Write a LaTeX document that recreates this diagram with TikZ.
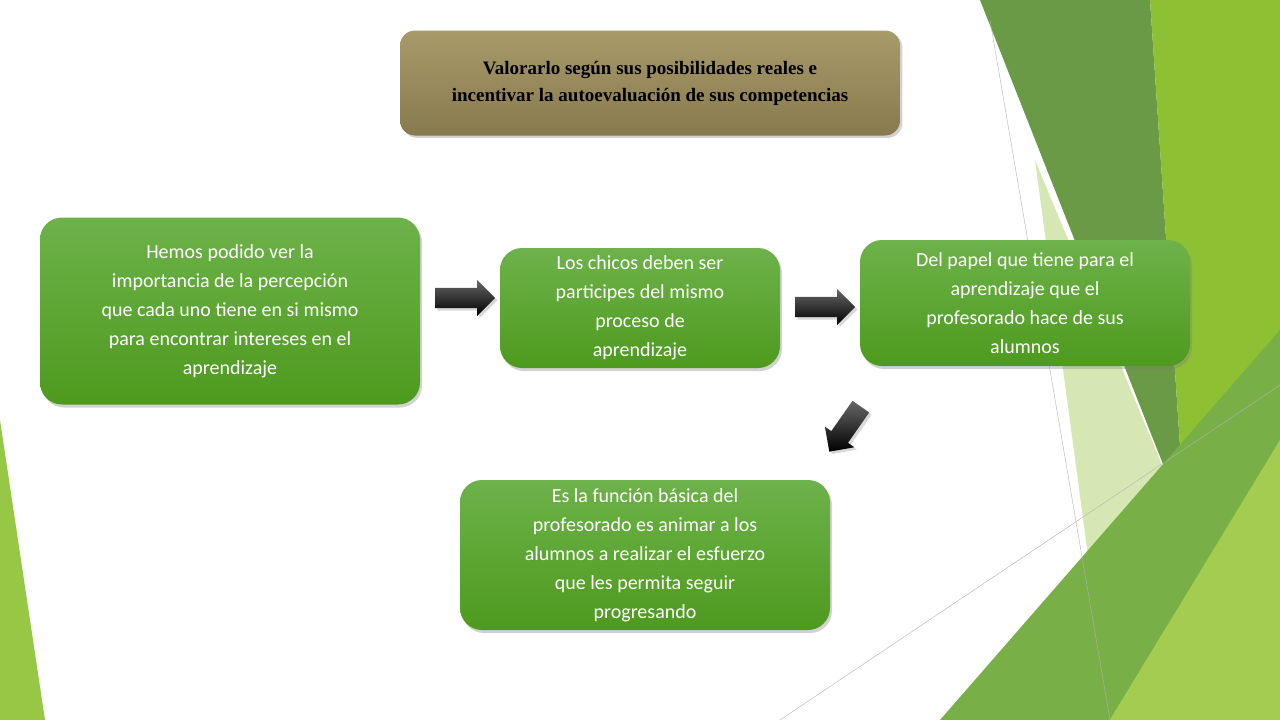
\documentclass[tikz,border=0pt]{standalone}
\usepackage{fontspec}
\setmainfont{Carlito}
\newfontfamily\titlefont{Liberation Serif}
\usetikzlibrary{shadows,shapes.arrows}
\definecolor{gtop}{HTML}{6DB24A}
\definecolor{gbot}{HTML}{4E9A1E}
\tikzset{
 gbox/.style={rounded corners=22pt,top color=gtop,bottom color=gbot,draw=none,
   drop shadow={shadow xshift=2pt,shadow yshift=-3pt,opacity=0.35},
   text=white,align=center,font=\fontsize{20}{29}\selectfont,inner sep=4pt},
 barrow/.style={single arrow,draw=none,top color=black!60,bottom color=black,
   minimum height=60pt,minimum width=36pt,single arrow head extend=4pt,inner sep=5pt,
   drop shadow={opacity=0.3}}
}
\begin{document}
\begin{tikzpicture}[x=1pt,y=-1pt]
\useasboundingbox (0,0) rectangle (1280,720);
\fill[white] (0,0) rectangle (1280,720);
% decoration
\fill[color={rgb,255:red,106;green,154;blue,69}] (980,0) -- (1150,0) -- (1185,520) -- cycle;
\fill[color={rgb,255:red,141;green,192;blue,50}] (1150,0) -- (1280,0) -- (1280,720) -- (1120,720) -- (1185,520) -- cycle;
\fill[color={rgb,255:red,214;green,231;blue,180}] (1035,160) -- (1185,520) -- (1150,720) -- (1110,720) -- cycle;
\fill[color={rgb,255:red,120;green,175;blue,70}] (940,720) -- (1280,330) -- (1280,440) -- (1110,720) -- cycle;
\fill[color={rgb,255:red,164;green,204;blue,80}] (1110,720) -- (1280,440) -- (1280,720) -- cycle;
\fill[color={rgb,255:red,150;green,200;blue,70}] (0,420) -- (45,720) -- (0,720) -- cycle;
\draw[gray!60,thin] (990,20) -- (1110,720);
\draw[gray!60,thin] (780,720) -- (1280,385);
% title
\node[rounded corners=15pt,top color={rgb,255:red,168;green,154;blue,105},bottom color={rgb,255:red,135;green,122;blue,78},
  drop shadow={opacity=0.35},minimum width=500pt,minimum height=105pt,align=center,
  font=\titlefont\bfseries\fontsize{19}{27}\selectfont] (t) at (650,83)
  {Valorarlo según sus posibilidades reales e\\incentivar la autoevaluación de sus competencias};
% boxes
\node[gbox,minimum width=380pt,minimum height=187pt] (a) at (230,311)
 {Hemos podido ver la\\importancia de la percepción\\que cada uno tiene en si mismo\\para encontrar intereses en el\\aprendizaje};
\node[gbox,minimum width=280pt,minimum height=120pt] (b) at (640,308)
 {Los chicos deben ser\\participes del mismo\\proceso de\\aprendizaje};
\node[gbox,minimum width=330pt,minimum height=126pt] (c) at (1025,303)
 {Del papel que tiene para el\\aprendizaje que el\\profesorado hace de sus\\alumnos};
\node[gbox,minimum width=370pt,minimum height=150pt] (d) at (645,555)
 {Es la función básica del\\profesorado es animar a los\\alumnos a realizar el esfuerzo\\que les permita seguir\\progresando};
% arrows
\node[barrow] (ar1) at (460,298) {};
\node[barrow] (ar2) at (820,307) {};
\node[barrow,rotate=-125,minimum height=55pt] (ar3) at (848,425) {};
\end{tikzpicture}
\end{document}
